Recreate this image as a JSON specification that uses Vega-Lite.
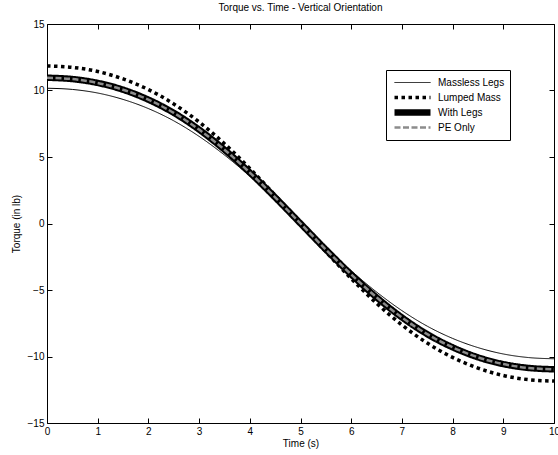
{
  "$schema": "https://vega.github.io/schema/vega-lite/v6.json",
  "width": 507,
  "height": 399,
  "autosize": "none",
  "padding": {"left": 47, "top": 24, "right": 4, "bottom": 32},
  "background": "white",
  "config": {
    "font": "Liberation Sans",
    "view": {"stroke": null},
    "axis": {
      "grid": false,
      "domainColor": "black",
      "domainWidth": 1,
      "tickColor": "black",
      "tickWidth": 1,
      "tickSize": -5,
      "labelFont": "Liberation Sans",
      "labelFontSize": 10,
      "labelColor": "black",
      "titleFont": "Liberation Sans",
      "titleFontSize": 10,
      "titleFontWeight": "normal",
      "titleColor": "black"
    }
  },
  "title": {
    "text": "Torque vs. Time - Vertical Orientation",
    "fontSize": 10,
    "fontWeight": "normal",
    "font": "Liberation Sans",
    "color": "black",
    "offset": 6
  },
  "data": {
    "values": [
      {"t": 0, "torque": 10.17, "series": "Massless Legs"},
      {"t": 0.5, "torque": 10.08, "series": "Massless Legs"},
      {"t": 1, "torque": 9.81, "series": "Massless Legs"},
      {"t": 1.5, "torque": 9.33, "series": "Massless Legs"},
      {"t": 2, "torque": 8.64, "series": "Massless Legs"},
      {"t": 2.5, "torque": 7.72, "series": "Massless Legs"},
      {"t": 3, "torque": 6.55, "series": "Massless Legs"},
      {"t": 3.5, "torque": 5.15, "series": "Massless Legs"},
      {"t": 4, "torque": 3.56, "series": "Massless Legs"},
      {"t": 4.5, "torque": 1.82, "series": "Massless Legs"},
      {"t": 5, "torque": 0, "series": "Massless Legs"},
      {"t": 5.5, "torque": -1.82, "series": "Massless Legs"},
      {"t": 6, "torque": -3.56, "series": "Massless Legs"},
      {"t": 6.5, "torque": -5.15, "series": "Massless Legs"},
      {"t": 7, "torque": -6.55, "series": "Massless Legs"},
      {"t": 7.5, "torque": -7.72, "series": "Massless Legs"},
      {"t": 8, "torque": -8.64, "series": "Massless Legs"},
      {"t": 8.5, "torque": -9.33, "series": "Massless Legs"},
      {"t": 9, "torque": -9.81, "series": "Massless Legs"},
      {"t": 9.5, "torque": -10.08, "series": "Massless Legs"},
      {"t": 10, "torque": -10.17, "series": "Massless Legs"},
      {"t": 0, "torque": 11.85, "series": "Lumped Mass"},
      {"t": 0.5, "torque": 11.74, "series": "Lumped Mass"},
      {"t": 1, "torque": 11.43, "series": "Lumped Mass"},
      {"t": 1.5, "torque": 10.87, "series": "Lumped Mass"},
      {"t": 2, "torque": 10.07, "series": "Lumped Mass"},
      {"t": 2.5, "torque": 8.99, "series": "Lumped Mass"},
      {"t": 3, "torque": 7.63, "series": "Lumped Mass"},
      {"t": 3.5, "torque": 6.0, "series": "Lumped Mass"},
      {"t": 4, "torque": 4.14, "series": "Lumped Mass"},
      {"t": 4.5, "torque": 2.12, "series": "Lumped Mass"},
      {"t": 5, "torque": 0, "series": "Lumped Mass"},
      {"t": 5.5, "torque": -2.12, "series": "Lumped Mass"},
      {"t": 6, "torque": -4.14, "series": "Lumped Mass"},
      {"t": 6.5, "torque": -6.0, "series": "Lumped Mass"},
      {"t": 7, "torque": -7.63, "series": "Lumped Mass"},
      {"t": 7.5, "torque": -8.99, "series": "Lumped Mass"},
      {"t": 8, "torque": -10.07, "series": "Lumped Mass"},
      {"t": 8.5, "torque": -10.87, "series": "Lumped Mass"},
      {"t": 9, "torque": -11.43, "series": "Lumped Mass"},
      {"t": 9.5, "torque": -11.74, "series": "Lumped Mass"},
      {"t": 10, "torque": -11.85, "series": "Lumped Mass"},
      {"t": 0, "torque": 10.96, "series": "With Legs"},
      {"t": 0.5, "torque": 10.86, "series": "With Legs"},
      {"t": 1, "torque": 10.57, "series": "With Legs"},
      {"t": 1.5, "torque": 10.06, "series": "With Legs"},
      {"t": 2, "torque": 9.31, "series": "With Legs"},
      {"t": 2.5, "torque": 8.32, "series": "With Legs"},
      {"t": 3, "torque": 7.06, "series": "With Legs"},
      {"t": 3.5, "torque": 5.55, "series": "With Legs"},
      {"t": 4, "torque": 3.83, "series": "With Legs"},
      {"t": 4.5, "torque": 1.96, "series": "With Legs"},
      {"t": 5, "torque": 0, "series": "With Legs"},
      {"t": 5.5, "torque": -1.96, "series": "With Legs"},
      {"t": 6, "torque": -3.83, "series": "With Legs"},
      {"t": 6.5, "torque": -5.55, "series": "With Legs"},
      {"t": 7, "torque": -7.06, "series": "With Legs"},
      {"t": 7.5, "torque": -8.32, "series": "With Legs"},
      {"t": 8, "torque": -9.31, "series": "With Legs"},
      {"t": 8.5, "torque": -10.06, "series": "With Legs"},
      {"t": 9, "torque": -10.57, "series": "With Legs"},
      {"t": 9.5, "torque": -10.86, "series": "With Legs"},
      {"t": 10, "torque": -10.96, "series": "With Legs"},
      {"t": 0, "torque": 10.96, "series": "PE Only"},
      {"t": 0.5, "torque": 10.86, "series": "PE Only"},
      {"t": 1, "torque": 10.57, "series": "PE Only"},
      {"t": 1.5, "torque": 10.06, "series": "PE Only"},
      {"t": 2, "torque": 9.31, "series": "PE Only"},
      {"t": 2.5, "torque": 8.32, "series": "PE Only"},
      {"t": 3, "torque": 7.06, "series": "PE Only"},
      {"t": 3.5, "torque": 5.55, "series": "PE Only"},
      {"t": 4, "torque": 3.83, "series": "PE Only"},
      {"t": 4.5, "torque": 1.96, "series": "PE Only"},
      {"t": 5, "torque": 0, "series": "PE Only"},
      {"t": 5.5, "torque": -1.96, "series": "PE Only"},
      {"t": 6, "torque": -3.83, "series": "PE Only"},
      {"t": 6.5, "torque": -5.55, "series": "PE Only"},
      {"t": 7, "torque": -7.06, "series": "PE Only"},
      {"t": 7.5, "torque": -8.32, "series": "PE Only"},
      {"t": 8, "torque": -9.31, "series": "PE Only"},
      {"t": 8.5, "torque": -10.06, "series": "PE Only"},
      {"t": 9, "torque": -10.57, "series": "PE Only"},
      {"t": 9.5, "torque": -10.86, "series": "PE Only"},
      {"t": 10, "torque": -10.96, "series": "PE Only"}
    ]
  },
  "resolve": {"axis": {"x": "independent", "y": "independent"}},
  "layer": [
    {
      "mark": {"type": "line", "interpolate": "monotone", "clip": true},
      "encoding": {
        "x": {
          "field": "t", "type": "quantitative",
          "scale": {"domain": [0, 10], "nice": false},
          "axis": {"orient": "bottom", "title": "Time (s)", "values": [0,1,2,3,4,5,6,7,8,9,10], "labelPadding": 8, "titlePadding": 2, "labelFlush": false}
        },
        "y": {
          "field": "torque", "type": "quantitative",
          "scale": {"domain": [-15, 15], "nice": false},
          "axis": {"orient": "left", "title": "Torque (in lb)", "values": [-15,-10,-5,0,5,10,15], "labelPadding": 8, "titlePadding": 6, "labelFlush": false}
        },
        "color": {
          "field": "series", "type": "nominal",
          "scale": {"domain": ["Massless Legs", "Lumped Mass", "With Legs", "PE Only"], "range": ["#000000", "#000000", "#000000", "#8c8c8c"]},
          "legend": {
            "title": null,
            "orient": "none",
            "legendX": 339,
            "legendY": 46,
            "strokeColor": "black",
            "fillColor": "white",
            "padding": 5,
            "symbolType": "stroke",
            "symbolSize": 1296,
            "clipHeight": 15,
            "rowPadding": 0,
            "labelOffset": 4,
            "labelFontSize": 10,
            "labelFont": "Liberation Sans",
            "labelColor": "black"
          }
        },
        "strokeDash": {
          "field": "series", "type": "nominal",
          "scale": {"domain": ["Massless Legs", "Lumped Mass", "With Legs", "PE Only"], "range": [[1, 0], [3.5, 3.5], [1, 0], [6, 2.5]]}
        },
        "strokeWidth": {
          "field": "series", "type": "nominal",
          "scale": {"type": "ordinal", "domain": ["Massless Legs", "Lumped Mass", "With Legs", "PE Only"], "range": [1, 3.5, 6.5, 2.5]}
        },
        "order": {"field": "t", "type": "quantitative"}
      }
    },
    {
      "mark": {"type": "line", "opacity": 0},
      "encoding": {
        "x": {
          "field": "t", "type": "quantitative",
          "scale": {"domain": [0, 10], "nice": false},
          "axis": {"orient": "top", "title": null, "labels": false, "values": [0,1,2,3,4,5,6,7,8,9,10]}
        },
        "y": {
          "field": "torque", "type": "quantitative",
          "scale": {"domain": [-15, 15], "nice": false},
          "axis": {"orient": "right", "title": null, "labels": false, "values": [-15,-10,-5,0,5,10,15]}
        },
        "detail": {"field": "series"}
      }
    }
  ]
}
